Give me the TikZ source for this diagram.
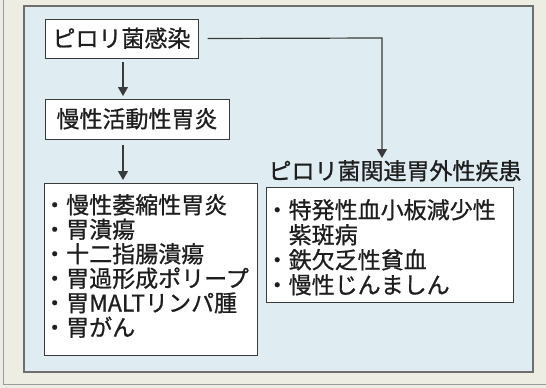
\documentclass[tikz,border=0pt]{standalone}
\usepackage{fontspec}
\setmainfont{Noto Sans CJK JP}[RawFeature={embolden=0.8}]
\usetikzlibrary{arrows.meta}
\definecolor{pagebg}{HTML}{EEEDE4}
\definecolor{panelbg}{HTML}{DFEDF3}
\definecolor{framec}{HTML}{6E6E6E}
\definecolor{boxc}{HTML}{3A3A3A}
\definecolor{ink}{HTML}{1E1E1E}
\newcommand{\bulletmark}{\makebox[23pt][c]{・}}
\tikzset{
  panel/.style={draw=framec, line width=1.1pt, fill=panelbg},
  box/.style={draw=boxc, line width=1pt, fill=white, inner sep=0pt},
  lbl/.style={inner sep=0pt, text=ink, font=\fontsize{23}{25}\selectfont, text height=20pt, text depth=3pt},
  itm/.style={lbl, anchor=west},
  conn/.style={draw=boxc, line width=1.2pt, -{Triangle[width=10pt,length=9pt]}}
}
\begin{document}
\begin{tikzpicture}[x=1pt,y=-1pt]
\useasboundingbox[fill=pagebg] (0,0) rectangle (546,388);
\draw[framec!70, line width=0.8pt] (3,0) -- (3,384.5) -- (546,384.5);
\draw[panel] (24,6) rectangle (533,372);
% top boxes
\node[box, lbl, minimum width=153pt, minimum height=39pt] (b1) at (121.5,38.5) {ピロリ菌感染};
\node[box, lbl, minimum width=184pt, minimum height=40pt] (b2) at (137,119) {慢性活動性胃炎};
% list boxes
\node[box, minimum width=213pt, minimum height=172pt] (b3) at (150.5,269) {};
\node[box, minimum width=247pt, minimum height=115pt] (b4) at (389.5,244.5) {};
% left list
\node[itm] (l1) at (43,205) {\bulletmark 慢性萎縮性胃炎};
\node[itm] (l2) at (43,229.5) {\bulletmark 胃潰瘍};
\node[itm] (l3) at (43,254) {\bulletmark 十二指腸潰瘍};
\node[itm] (l4) at (43,278.5) {\bulletmark 胃過形成ポリープ};
\node[itm] (l5) at (43,303) {\bulletmark 胃MALTリンパ腫};
\node[itm] (l6) at (43,327.5) {\bulletmark 胃がん};
% right list
\node[lbl] (rt) at (395,171) {ピロリ菌関連胃外性疾患};
\node[itm] (r1) at (265.5,210) {\bulletmark 特発性血小板減少性};
\node[itm] (r1b) at (288.5,235) {紫斑病};
\node[itm] (r2) at (265.5,260) {\bulletmark 鉄欠乏性貧血};
\node[itm] (r3) at (265.5,285) {\bulletmark 慢性じんましん};
% connectors
\coordinate (a1) at (123,62);
\coordinate (a1e) at (123,96);
\coordinate (a2) at (123,145);
\coordinate (a2e) at (123,180);
\draw[conn] (a1) -- (a1e);
\draw[conn] (a2) -- (a2e);
\coordinate (c0) at ([xshift=9pt]b1.east);
\coordinate (c1) at (382,38);
\coordinate (c2) at (382,158);
\draw[conn] (c0) -- (c1) -- (c2);
\end{tikzpicture}
\end{document}
